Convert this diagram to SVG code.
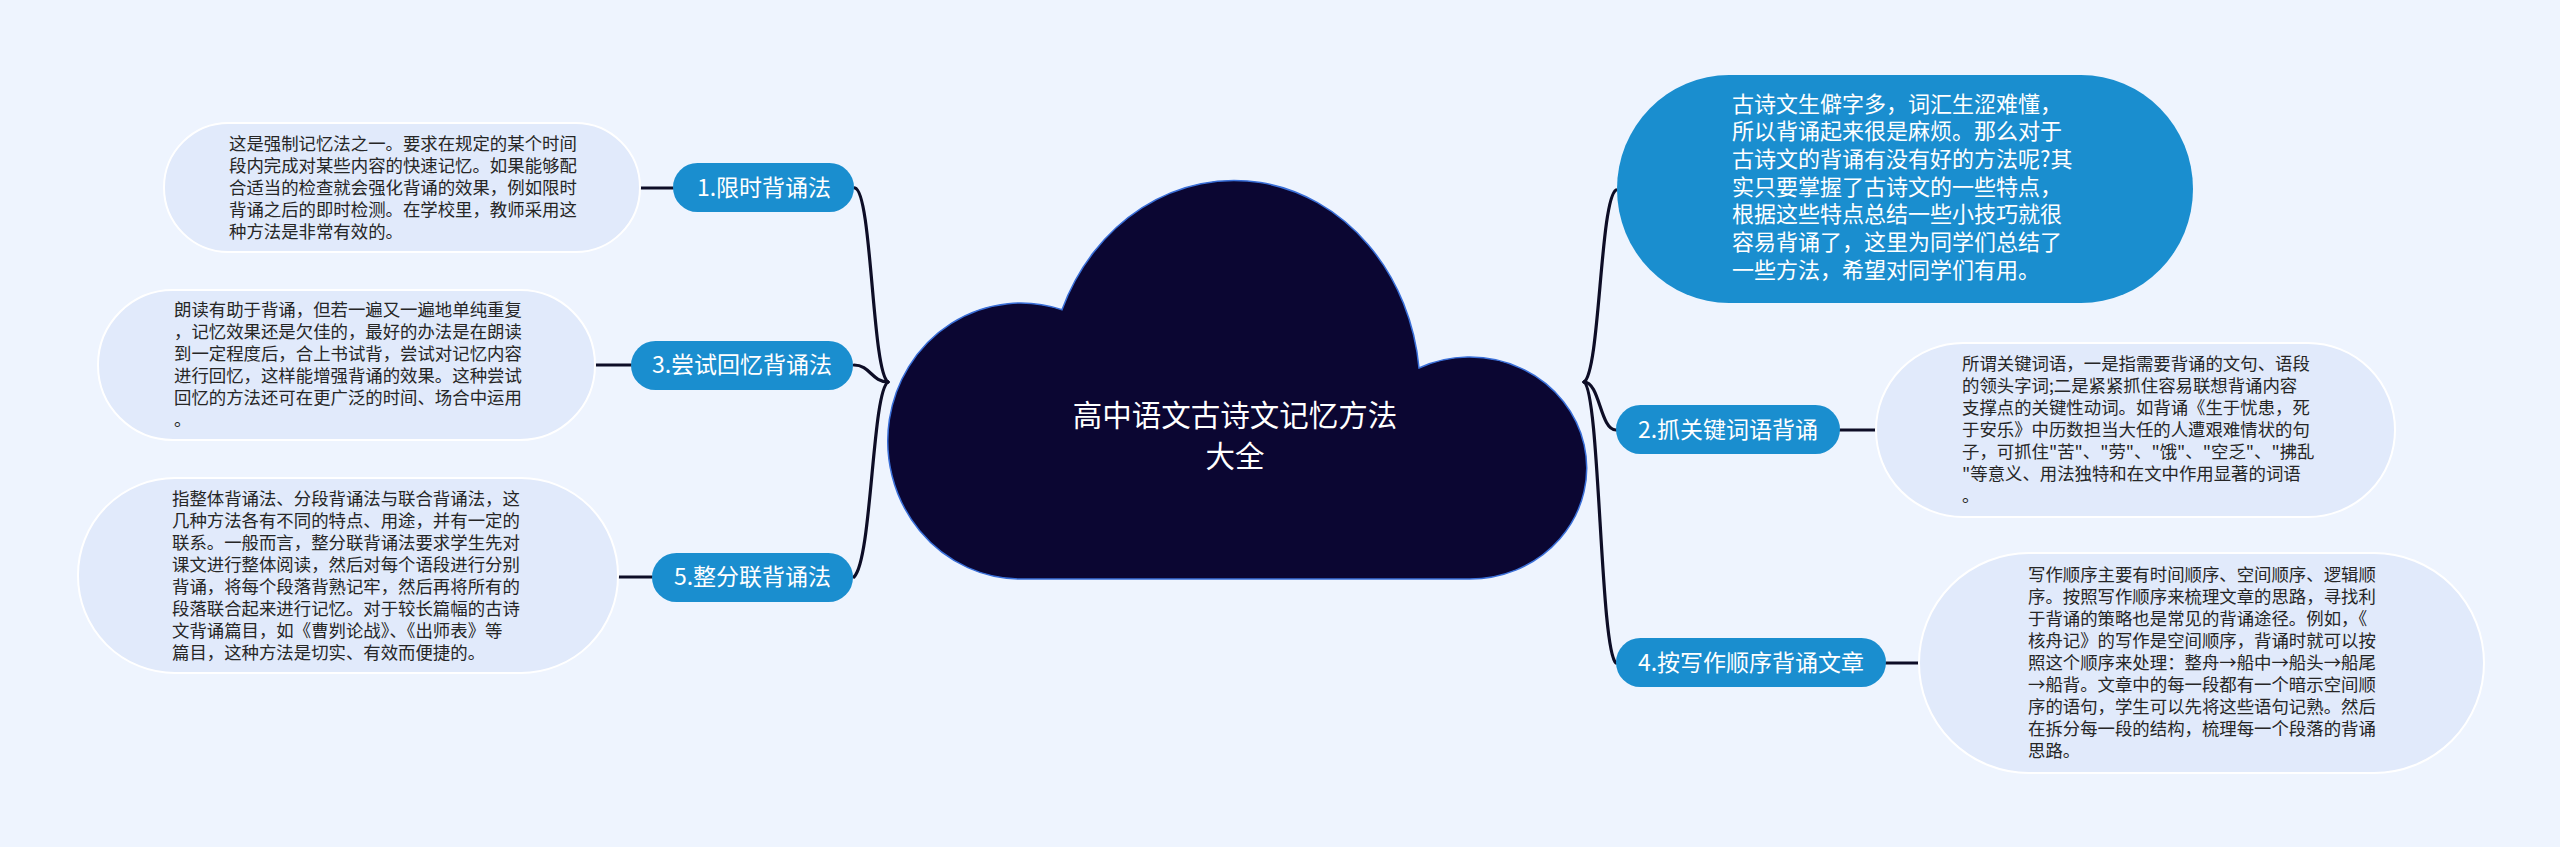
<svg xmlns="http://www.w3.org/2000/svg" width="2560" height="847" viewBox="0 0 2560 847">
<style>
.bg{fill:#EEF4FE}
.node rect{fill:#1A8ECF}
.nt{font-family:"Noto Sans CJK SC","Noto Sans",sans-serif;font-size:23px;fill:#FFFFFF;text-anchor:middle}
.box{fill:#E1EAFB;stroke:#FFFFFF;stroke-width:2}
.bt{font-family:"Noto Sans CJK SC","Noto Sans",sans-serif;font-size:17.4px;fill:#262626}
.it{font-family:"Noto Sans CJK SC","Noto Sans",sans-serif;font-size:22px;fill:#FFFFFF}
.tt{font-family:"Noto Sans CJK SC","Noto Sans",sans-serif;font-size:29.5px;fill:#FFFFFF;text-anchor:middle}
.c{fill:none;stroke:#0D0D26;stroke-width:3.2;stroke-linecap:round}
</style>
<rect class="bg" x="0" y="0" width="2560" height="847"/>
<g id="connectors">
<path class="c" d="M888 382 C872 372 872 192 855 188"/>
<path class="c" d="M854 365 C870 365 872 382 888 382"/>
<path class="c" d="M888 382 C872 392 872 560 854 577"/>
<path class="c" d="M640 188 L673 188"/>
<path class="c" d="M596 365 L631 365"/>
<path class="c" d="M618 577 L652 577"/>
<path class="c" d="M1584 382 C1600 372 1600 200 1616 190"/>
<path class="c" d="M1584 382 C1600 382 1600 430 1616 430"/>
<path class="c" d="M1584 382 C1600 392 1600 650 1616 663"/>
<path class="c" d="M1840 430 L1876 430"/>
<path class="c" d="M1886 663 L1919 663"/>
</g>
<g id="center">
<path d="M1021 579 A133 138 0 1 1 1062 309.8 A186 209 0 0 1 1419 368 A117 111 0 1 1 1467 579 Z" fill="#0B0632" stroke="#3A6FD8" stroke-width="1.5"/>
<text class="tt" x="1235" y="426">高中语文古诗文记忆方法</text>
<text class="tt" x="1235" y="467">大全</text>
</g>
<g id="intro">
<rect x="1617" y="75" width="576" height="228" rx="112" ry="114" fill="#1A8ECF"/>
<text class="it" x="1732" y="111.5">古诗文生僻字多，词汇生涩难懂，</text>
<text class="it" x="1732" y="139.2">所以背诵起来很是麻烦。那么对于</text>
<text class="it" x="1732" y="166.9">古诗文的背诵有没有好的方法呢?其</text>
<text class="it" x="1732" y="194.6">实只要掌握了古诗文的一些特点，</text>
<text class="it" x="1732" y="222.3">根据这些特点总结一些小技巧就很</text>
<text class="it" x="1732" y="250">容易背诵了，这里为同学们总结了</text>
<text class="it" x="1732" y="277.7">一些方法，希望对同学们有用。</text>
</g>
<g id="n1" class="node">
<rect x="673" y="163" width="181" height="49" rx="24.5"/>
<text class="nt" x="764" y="196">1.限时背诵法</text>
</g>
<g id="d1">
<rect class="box" x="164" y="123" width="476" height="129" rx="64.5"/>
<text class="bt" x="229" y="149.5">这是强制记忆法之一。要求在规定的某个时间</text>
<text class="bt" x="229" y="171.5">段内完成对某些内容的快速记忆。如果能够配</text>
<text class="bt" x="229" y="193.5">合适当的检查就会强化背诵的效果，例如限时</text>
<text class="bt" x="229" y="215.5">背诵之后的即时检测。在学校里，教师采用这</text>
<text class="bt" x="229" y="237.5">种方法是非常有效的。</text>
</g>
<g id="n3" class="node">
<rect x="631" y="341" width="222" height="49" rx="24.5"/>
<text class="nt" x="742" y="373">3.尝试回忆背诵法</text>
</g>
<g id="d3">
<rect class="box" x="98" y="290" width="497" height="150" rx="75"/>
<text class="bt" x="174" y="316">朗读有助于背诵，但若一遍又一遍地单纯重复</text>
<text class="bt" x="174" y="338">，记忆效果还是欠佳的，最好的办法是在朗读</text>
<text class="bt" x="174" y="360">到一定程度后，合上书试背，尝试对记忆内容</text>
<text class="bt" x="174" y="382">进行回忆，这样能增强背诵的效果。这种尝试</text>
<text class="bt" x="174" y="404">回忆的方法还可在更广泛的时间、场合中运用</text>
<text class="bt" x="174" y="426">。</text>
</g>
<g id="n5" class="node">
<rect x="652" y="553" width="201" height="49" rx="24.5"/>
<text class="nt" x="752.5" y="585">5.整分联背诵法</text>
</g>
<g id="d5">
<rect class="box" x="78" y="478" width="540" height="195" rx="97"/>
<text class="bt" x="172" y="504.5">指整体背诵法、分段背诵法与联合背诵法，这</text>
<text class="bt" x="172" y="526.5">几种方法各有不同的特点、用途，并有一定的</text>
<text class="bt" x="172" y="548.5">联系。一般而言，整分联背诵法要求学生先对</text>
<text class="bt" x="172" y="570.5">课文进行整体阅读，然后对每个语段进行分别</text>
<text class="bt" x="172" y="592.5">背诵，将每个段落背熟记牢，然后再将所有的</text>
<text class="bt" x="172" y="614.5">段落联合起来进行记忆。对于较长篇幅的古诗</text>
<text class="bt" x="172" y="636.5">文背诵篇目，如《曹刿论战》、《出师表》等</text>
<text class="bt" x="172" y="658.5">篇目，这种方法是切实、有效而便捷的。</text>
</g>
<g id="n2" class="node">
<rect x="1616" y="405" width="224" height="49" rx="24.5"/>
<text class="nt" x="1728" y="437.5">2.抓关键词语背诵</text>
</g>
<g id="d2">
<rect class="box" x="1876" y="343" width="519" height="174" rx="87"/>
<text class="bt" x="1962" y="370">所谓关键词语，一是指需要背诵的文句、语段</text>
<text class="bt" x="1962" y="392">的领头字词;二是紧紧抓住容易联想背诵内容</text>
<text class="bt" x="1962" y="414">支撑点的关键性动词。如背诵《生于忧患，死</text>
<text class="bt" x="1962" y="436">于安乐》中历数担当大任的人遭艰难情状的句</text>
<text class="bt" x="1962" y="458">子，可抓住"苦"、"劳"、"饿"、"空乏"、"拂乱</text>
<text class="bt" x="1962" y="480">"等意义、用法独特和在文中作用显著的词语</text>
<text class="bt" x="1962" y="502">。</text>
</g>
<g id="n4" class="node">
<rect x="1616" y="638" width="270" height="49" rx="24.5"/>
<text class="nt" x="1751" y="670.5">4.按写作顺序背诵文章</text>
</g>
<g id="d4">
<rect class="box" x="1919" y="553" width="565" height="220" rx="110"/>
<text class="bt" x="2028" y="581">写作顺序主要有时间顺序、空间顺序、逻辑顺</text>
<text class="bt" x="2028" y="603">序。按照写作顺序来梳理文章的思路，寻找利</text>
<text class="bt" x="2028" y="625">于背诵的策略也是常见的背诵途径。例如，《</text>
<text class="bt" x="2028" y="647">核舟记》的写作是空间顺序，背诵时就可以按</text>
<text class="bt" x="2028" y="669">照这个顺序来处理：整舟→船中→船头→船尾</text>
<text class="bt" x="2028" y="691">→船背。文章中的每一段都有一个暗示空间顺</text>
<text class="bt" x="2028" y="713">序的语句，学生可以先将这些语句记熟。然后</text>
<text class="bt" x="2028" y="735">在拆分每一段的结构，梳理每一个段落的背诵</text>
<text class="bt" x="2028" y="757">思路。</text>
</g>
</svg>
